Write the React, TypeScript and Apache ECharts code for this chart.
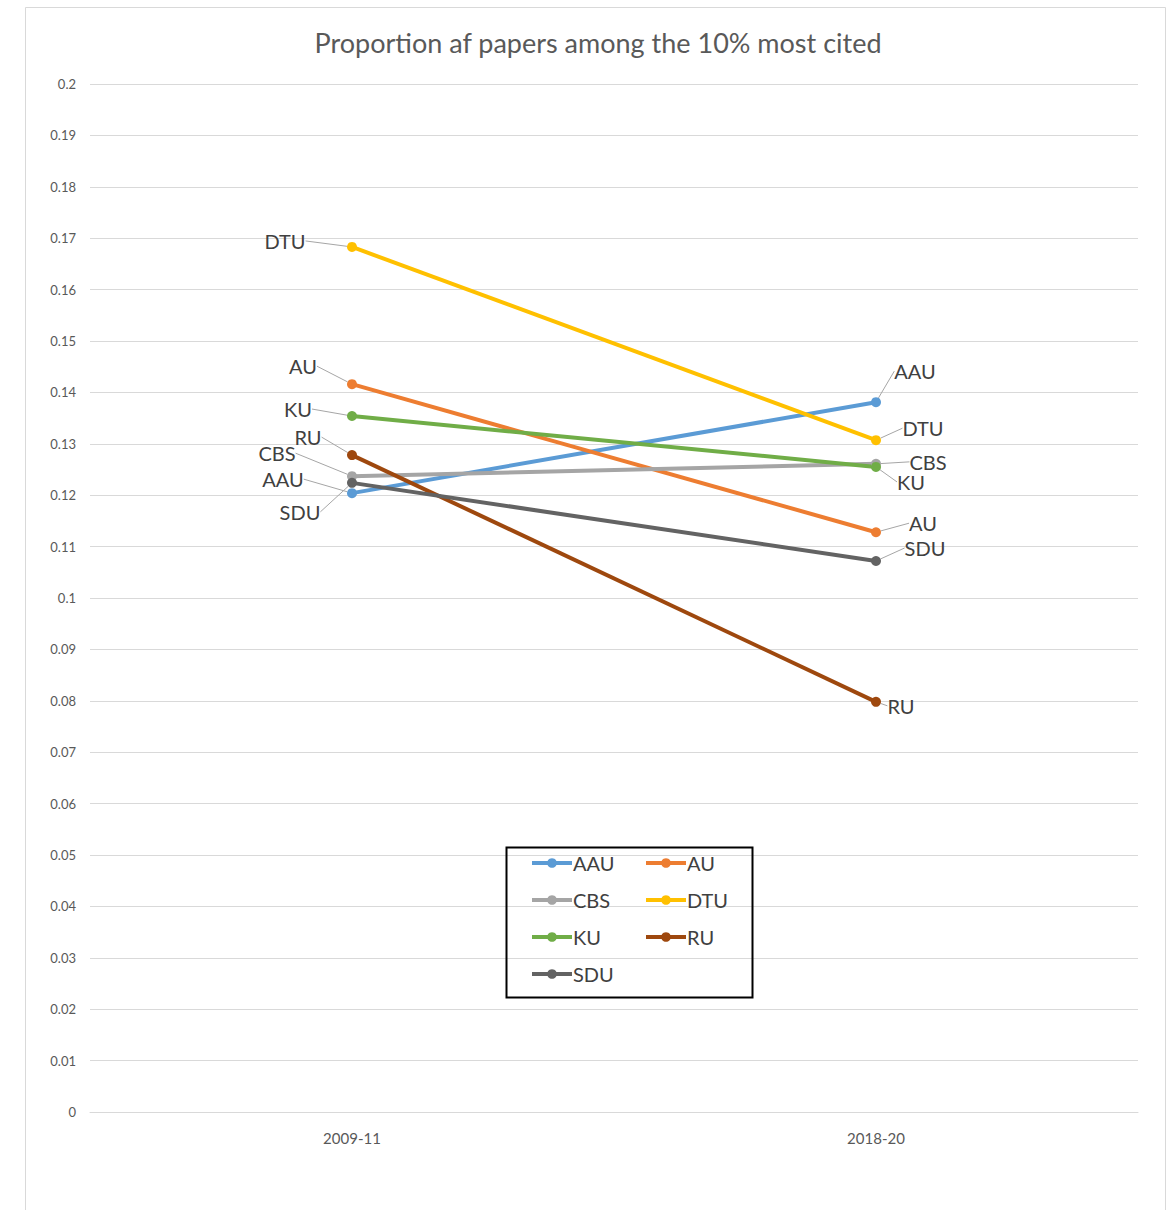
import React, { useEffect, useRef } from "react";
import * as echarts from "echarts";

const categories = ["2009-11", "2018-20"];
const seriesNames = ["AAU", "AU", "CBS", "DTU", "KU", "RU", "SDU"];
const aauValues = [0.1204, 0.1381];
const auValues = [0.1416, 0.1128];
const cbsValues = [0.1237, 0.1261];
const dtuValues = [0.1683, 0.1307];
const kuValues = [0.1354, 0.1255];
const ruValues = [0.1278, 0.0798];
const sduValues = [0.1224, 0.1072];
const allValues = [aauValues, auValues, cbsValues, dtuValues, kuValues, ruValues, sduValues];
const colors = ["#5B9BD5", "#ED7D31", "#A5A5A5", "#FFC000", "#70AD47", "#9E480E", "#636363"];

// label offsets (px) from each point: [series][categoryIndex] = [dx, dy]
const labelOffsets: Record<string, number[][]> = {
  AAU: [[-69, -14], [39, -31]],
  AU: [[-49, -18], [47, -9]],
  CBS: [[-75, -23], [52, -2]],
  DTU: [[-67, -6], [47, -12]],
  KU: [[-54, -7], [35, 15]],
  RU: [[-44, -18], [25, 4]],
  SDU: [[-52, 29], [49, -13]],
};

const FONT = "Lato, 'Noto Sans', sans-serif";

export default function App() {
  const ref = useRef<HTMLDivElement>(null);
  useEffect(() => {
    const chart = echarts.init(ref.current!, null, { renderer: "svg" });
    const series = seriesNames.map((name, i) => ({
      name,
      type: "line",
      data: allValues[i],
      symbol: "circle",
      symbolSize: 10,
      color: colors[i],
      lineStyle: { width: 4, color: colors[i] },
      itemStyle: { color: colors[i] },
      label: {
        show: true,
        position: "inside",
        formatter: name,
        fontFamily: FONT,
        fontSize: 20,
        color: "#404040",
      },
      labelLine: {
        show: true,
        lineStyle: { color: "#A6A6A6", width: 1 },
      },
      labelLayout: (params: any) => {
        const off = labelOffsets[name][params.dataIndex];
        return { dx: off[0], dy: off[1] };
      },
      z: 2,
    }));
    const legendCommon = {
      orient: "vertical",
      top: 848,
      itemWidth: 40,
      itemHeight: 12,
      itemGap: 17,
      lineStyle: { width: 4 },
      textStyle: { fontFamily: FONT, fontSize: 20, color: "#404040", lineHeight: 20, padding: [0, 0, 0, -4] },
    };
    chart.setOption({
      animation: false,
      backgroundColor: "#ffffff",
      title: {
        text: "Proportion af papers among the 10% most cited",
        left: 593,
        top: 24,
        textAlign: "center",
        textStyle: { fontFamily: FONT, fontSize: 27, fontWeight: "normal", color: "#595959" },
      },
      grid: { left: 90, right: 33, top: 84, bottom: 98, containLabel: false },
      xAxis: {
        type: "category",
        data: categories,
        boundaryGap: true,
        axisLine: { show: true, lineStyle: { color: "#D9D9D9", width: 1 } },
        axisTick: { show: false },
        axisLabel: { fontFamily: FONT, fontSize: 15, color: "#595959", margin: 18 },
      },
      yAxis: {
        type: "value",
        min: 0,
        max: 0.2,
        interval: 0.01,
        axisLine: { show: false },
        axisTick: { show: false },
        splitLine: { lineStyle: { color: "#D9D9D9", width: 1 } },
        axisLabel: { fontFamily: FONT, fontSize: 13, color: "#595959", margin: 14 },
      },
      legend: [
        { ...legendCommon, left: 525, data: ["AAU", "CBS", "KU", "SDU"] },
        { ...legendCommon, left: 639, data: ["AU", "DTU", "RU"] },
      ],
      graphic: [
        {
          type: "rect",
          left: 23,
          top: 5,
          shape: { width: 1140, height: 1230 },
          style: { fill: "none", stroke: "#D9D9D9", lineWidth: 1 },
          silent: true,
          z: -1,
        },
        {
          type: "rect",
          left: 504,
          top: 845,
          shape: { width: 246, height: 150 },
          style: { fill: "none", stroke: "#000000", lineWidth: 2 },
          silent: true,
          z: 10,
        },
      ],
      series,
    });
    return () => chart.dispose();
  }, []);
  return (
    <div
      ref={ref}
      style={{ position: "absolute", left: 0, top: 0, width: 1171, height: 1210 }}
    />
  );
}
